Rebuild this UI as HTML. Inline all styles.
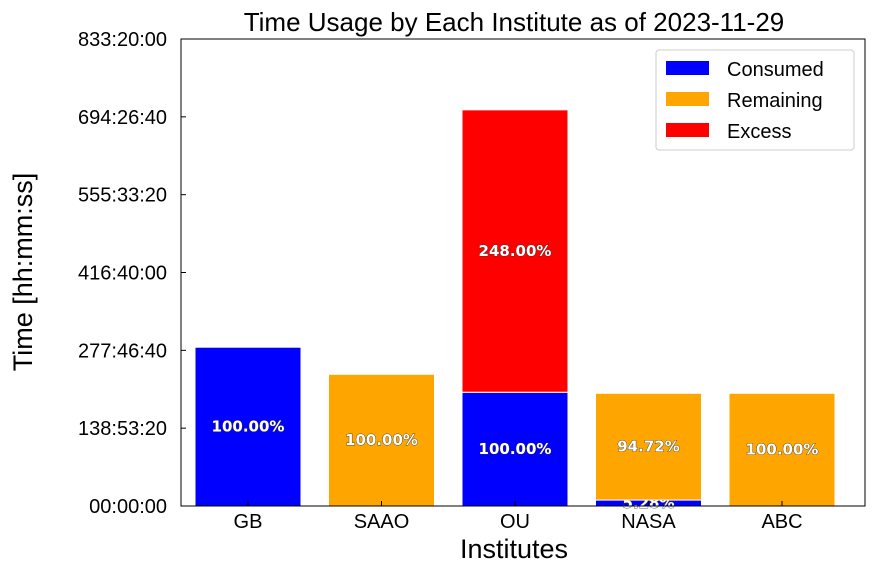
<!DOCTYPE html>
<html><head><meta charset="utf-8"><style>
body{margin:0;background:#fff}
svg{display:block;font-family:"Liberation Sans","DejaVu Sans",sans-serif}
.pct{font-weight:bold;font-size:15px;fill:#fff;stroke:#333;stroke-width:0.8px;paint-order:stroke;text-anchor:middle;font-family:"DejaVu Sans","Liberation Sans",sans-serif}
</style></head><body>
<svg id="chart" width="875" height="574" viewBox="0 0 875 574"></svg>
<script>
const categories=["GB","SAAO","OU","NASA","ABC"];
const consumed=[1020000,0,730800,38200,0];
const remaining=[0,846000,0,685800,724000];
const excess=[0,0,1814100,0,0];
const consumedPct=["100.00%",null,"100.00%","5.28%",null];
const remainingPct=[null,"100.00%",null,"94.72%","100.00%"];
const excessPct=[null,null,"248.00%",null,null];
const yTicks=[0,500000,1000000,1500000,2000000,2500000,3000000];
const yTickLabels=["00:00:00","138:53:20","277:46:40","416:40:00","555:33:20","694:26:40","833:20:00"];

const NS="http://www.w3.org/2000/svg";
const svg=document.getElementById("chart");
const L=181,R=865,T=39,B=506;
const yMax=3000000;
const y=v=>B-(v/yMax)*(B-T);
const band=133.5, x0=248;
const xc=i=>x0+i*band;
const bw=106;
function mk(tag,attrs,parent){const e=document.createElementNS(NS,tag);for(const k in attrs)e.setAttribute(k,attrs[k]);(parent||svg).appendChild(e);return e;}

// bars
categories.forEach((c,i)=>{
  let base=0;
  const segs=[[consumed[i],"#0000ff",consumedPct[i],"consumed"],[remaining[i],"#ffa500",remainingPct[i],"remaining"],[excess[i],"#ff0000",excessPct[i],"excess"]];
  segs.forEach(s=>{
    if(s[0]<=0)return;
    const r=mk("rect",{x:xc(i)-bw/2,y:y(base+s[0]),width:bw,height:y(base)-y(base+s[0]),fill:s[1],stroke:"#fff","stroke-width":1});
    
    
    if(s[2]){
      const t=mk("text",{x:xc(i),y:(y(base)+y(base+s[0]))/2+5,class:"pct"});
      t.textContent=s[2];
      
      
    }
    base+=s[0];
  });
});

// axes frame
const frame=mk("rect",{x:L,y:T,width:R-L,height:B-T,fill:"none",stroke:"#000","stroke-width":1});



yTicks.forEach((v,k)=>{
  mk("line",{x1:L,x2:L+5,y1:y(v),y2:y(v),stroke:"#000"});
  const t=mk("text",{x:L-14,y:y(v)+7,"text-anchor":"end","font-size":"20px",fill:"#000"});
  t.textContent=yTickLabels[k];
  
  
});
categories.forEach((c,i)=>{
  mk("line",{x1:xc(i),x2:xc(i),y1:B,y2:B-5,stroke:"#000"});
  const t=mk("text",{x:xc(i),y:B+22,"text-anchor":"middle","font-size":"20px",fill:"#000"});
  t.textContent=c;
  
  
});

const title=mk("text",{x:514,y:31,"text-anchor":"middle","font-size":"26px",fill:"#000"});
title.textContent="Time Usage by Each Institute as of 2023-11-29";



const xt=mk("text",{x:514,y:558,"text-anchor":"middle","font-size":"27px",fill:"#000"});
xt.textContent="Institutes";



const yt=mk("text",{x:0,y:0,"text-anchor":"middle","font-size":"27px",fill:"#000",transform:"translate(32,272) rotate(-90)"});
yt.textContent="Time [hh:mm:ss]";



// legend
const lg=mk("g",{});


mk("rect",{x:656,y:50,width:198,height:100,rx:3,fill:"#fff",stroke:"#ccc"},lg);
[["Consumed","#0000ff"],["Remaining","#ffa500"],["Excess","#ff0000"]].forEach((e,k)=>{
  const g=mk("g",{},lg);
  
  
  mk("rect",{x:666,y:61+k*31,width:43,height:14,fill:e[1]},g);
  const t=mk("text",{x:727,y:76+k*31,"font-size":"20px",fill:"#000"},g);
  t.textContent=e[0];
});
</script>
</body></html>
